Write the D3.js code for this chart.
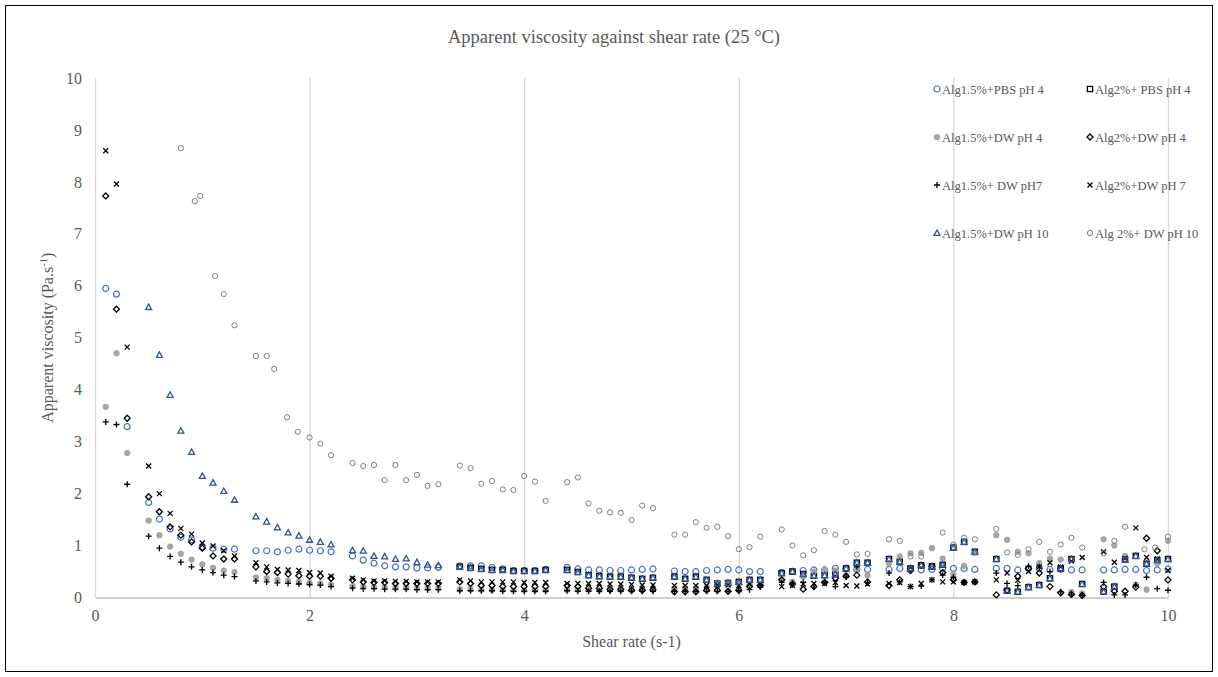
<!DOCTYPE html>
<head>
    <meta charset="utf-8">
    <style>
        body { margin: 0; background: #fff; }
        text { font-family: "Liberation Serif", "Times New Roman", serif; fill: #595959; }
    </style>
</head>
<body>
    <script src="https://cdn.jsdelivr.net/npm/d3@7"></script>
    <script>

        // shear rate steps shared by most series (s-1)
        var shear = [0.1, 0.2, 0.3,
            0.5, 0.6, 0.7, 0.8, 0.9, 1.0, 1.1, 1.2, 1.3,
            1.5, 1.6, 1.7, 1.8, 1.9, 2.0, 2.1, 2.2,
            2.4, 2.5, 2.6, 2.7, 2.8, 2.9, 3.0, 3.1, 3.2,
            3.4, 3.5, 3.6, 3.7, 3.8, 3.9, 4.0, 4.1, 4.2,
            4.4, 4.5, 4.6, 4.7, 4.8, 4.9, 5.0, 5.1, 5.2,
            5.4, 5.5, 5.6, 5.7, 5.8, 5.9, 6.0, 6.1, 6.2,
            6.4, 6.5, 6.6, 6.7, 6.8, 6.9, 7.0, 7.1, 7.2,
            7.4, 7.5, 7.6, 7.7, 7.8, 7.9, 8.0, 8.1, 8.2,
            8.4, 8.5, 8.6, 8.7, 8.8, 8.9, 9.0, 9.1, 9.2,
            9.4, 9.5, 9.6, 9.7, 9.8, 9.9, 10.0];

        var pbs15ph4 = [5.95, 5.84, 3.29,
            1.83, 1.51, 1.32, 1.16, 1.11, 0.98, 0.95, 0.93, 0.93,
            0.90, 0.90, 0.88, 0.91, 0.93, 0.91, 0.90, 0.88,
            0.80, 0.72, 0.66, 0.61, 0.59, 0.59, 0.57, 0.57, 0.58,
            0.61, 0.61, 0.61, 0.58, 0.55, 0.52, 0.52, 0.52, 0.54,
            0.58, 0.55, 0.53, 0.53, 0.52, 0.52, 0.53, 0.54, 0.55,
            0.51, 0.50, 0.50, 0.52, 0.53, 0.54, 0.53, 0.50, 0.50,
            0.48, 0.50, 0.52, 0.53, 0.53, 0.56, 0.56, 0.54, 0.54,
            0.54, 0.56, 0.55, 0.53, 0.54, 0.56, 0.56, 0.56, 0.54,
            0.56, 0.56, 0.53, 0.56, 0.56, 0.54, 0.54, 0.53, 0.53,
            0.53, 0.53, 0.54, 0.54, 0.52, 0.53, 0.55];

        // mostly hidden behind the pH 10 triangles
        var pbs2ph4 = [null, null, null,
            null, null, null, null, null, null, null, null, null,
            null, null, null, null, null, null, null, null,
            null, null, null, null, null, null, null, null, null,
            0.59, 0.57, 0.55, 0.53, 0.53, 0.51, 0.51, 0.51, 0.53,
            0.53, 0.49, 0.43, 0.41, 0.40, 0.40, 0.38, 0.36, 0.38,
            0.40, 0.36, 0.40, 0.34, 0.27, 0.28, 0.30, 0.34, 0.34,
            0.47, 0.50, 0.45, 0.42, 0.43, 0.45, 0.56, 0.67, 0.67,
            0.74, 0.69, 0.56, 0.62, 0.60, 0.63, 0.96, 1.07, 0.88,
            0.74, 0.13, 0.11, 0.20, 0.24, 0.37, 0.56, 0.74, 0.26,
            0.11, 0.21, 0.73, 0.80, 0.65, 0.72, 0.74];

        var dw15ph4 = [3.67, 4.70, 2.78,
            1.48, 1.20, 0.98, 0.84, 0.73, 0.64, 0.57, 0.52, 0.49,
            0.39, 0.37, 0.34, 0.32, 0.30, 0.28, 0.27, 0.25,
            0.22, 0.21, 0.20, 0.20, 0.19, 0.19, 0.18, 0.18, 0.18,
            0.16, 0.16, 0.15, 0.15, 0.15, 0.14, 0.14, 0.14, 0.14,
            0.15, 0.15, 0.15, 0.14, 0.15, 0.15, 0.16, 0.16, 0.17,
            0.17, 0.18, 0.18, 0.20, 0.27, 0.27, 0.27, 0.25, 0.25,
            0.34, 0.30, 0.40, 0.50, 0.53, 0.52, 0.43, 0.56, 0.43,
            0.66, 0.79, 0.85, 0.86, 0.95, 0.75, 0.45, 0.61, 0.86,
            1.20, 1.11, 0.88, 0.85, 0.66, 0.75, 0.73, 0.11, 0.08,
            1.12, 1.00, 0.80, 0.25, 0.15, 0.66, 1.09];

        var dw2ph4 = [7.73, 5.55, 3.45,
            1.94, 1.65, 1.36, 1.20, 1.07, 0.95, 0.80, 0.74, 0.74,
            0.59, 0.50, 0.48, 0.45, 0.42, 0.41, 0.41, 0.37,
            0.34, 0.30, 0.29, 0.29, 0.27, 0.27, 0.27, 0.27, 0.27,
            0.30, 0.27, 0.23, 0.23, 0.21, 0.21, 0.21, 0.21, 0.21,
            0.23, 0.21, 0.18, 0.18, 0.16, 0.16, 0.14, 0.14, 0.15,
            0.11, 0.11, 0.11, 0.14, 0.14, 0.12, 0.14, 0.21, 0.23,
            0.34, 0.26, 0.16, 0.21, 0.29, 0.37, 0.41, 0.43, 0.30,
            0.23, 0.34, 0.52, 0.62, 0.60, 0.48, 0.34, 0.29, 0.30,
            0.05, 0.14, 0.41, 0.56, 0.47, 0.21, 0.09, 0.06, 0.04,
            0.21, 0.12, 0.12, 0.20, 1.14, 0.90, 0.34];

        var dw15ph7 = [3.38, 3.33, 2.18,
            1.18, 0.95, 0.79, 0.68, 0.59, 0.53, 0.48, 0.43, 0.40,
            0.32, 0.30, 0.28, 0.27, 0.26, 0.25, 0.24, 0.21,
            0.18, 0.17, 0.17, 0.16, 0.16, 0.16, 0.15, 0.15, 0.15,
            0.13, 0.13, 0.13, 0.13, 0.12, 0.12, 0.12, 0.12, 0.12,
            0.13, 0.12, 0.12, 0.12, 0.12, 0.12, 0.12, 0.12, 0.12,
            0.12, 0.12, 0.12, 0.12, 0.12, 0.12, 0.13, 0.15, 0.20,
            0.29, 0.27, 0.29, 0.20, 0.30, 0.21, 0.39, 0.59, 0.29,
            0.47, 0.30, 0.21, 0.22, 0.34, 0.43, 0.39, 0.29, 0.30,
            0.47, 0.27, 0.23, 0.60, 0.59, 0.50, 0.11, 0.05, 0.04,
            0.29, 0.05, 0.05, 0.24, 0.39, 0.17, 0.14];

        var dw2ph7 = [8.60, 7.96, 4.82,
            2.53, 2.00, 1.62, 1.33, 1.22, 1.05, 0.99, 0.90, 0.80,
            0.67, 0.59, 0.54, 0.53, 0.52, 0.48, 0.47, 0.41,
            0.37, 0.34, 0.32, 0.32, 0.31, 0.31, 0.30, 0.30, 0.30,
            0.34, 0.32, 0.30, 0.30, 0.30, 0.30, 0.29, 0.29, 0.29,
            0.27, 0.27, 0.27, 0.27, 0.26, 0.26, 0.25, 0.24, 0.24,
            0.23, 0.23, 0.23, 0.23, 0.24, 0.24, 0.23, 0.26, 0.26,
            0.21, 0.23, 0.26, 0.27, 0.27, 0.29, 0.23, 0.22, 0.26,
            0.27, 0.29, 0.21, 0.27, 0.34, 0.30, 0.30, 0.29, 0.30,
            0.34, 0.47, 0.33, 0.50, 0.59, 0.67, 0.59, 0.70, 0.77,
            0.88, 0.68, 0.75, 1.34, 0.77, 0.74, 0.52];

        var dw15ph10 = [null, null, null,
            5.59, 4.67, 3.90, 3.21, 2.80, 2.34, 2.21, 2.05, 1.88,
            1.56, 1.46, 1.35, 1.25, 1.19, 1.11, 1.07, 1.02,
            0.91, 0.90, 0.80, 0.79, 0.74, 0.75, 0.68, 0.63, 0.62,
            0.59, 0.57, 0.55, 0.53, 0.53, 0.51, 0.51, 0.51, 0.53,
            0.53, 0.49, 0.43, 0.41, 0.40, 0.40, 0.38, 0.36, 0.38,
            0.40, 0.36, 0.40, 0.34, 0.27, 0.28, 0.30, 0.34, 0.34,
            0.47, 0.50, 0.45, 0.42, 0.43, 0.45, 0.56, 0.67, 0.67,
            0.74, 0.69, 0.56, 0.62, 0.60, 0.63, 0.96, 1.07, 0.88,
            0.74, 0.13, 0.11, 0.20, 0.24, 0.37, 0.56, 0.74, 0.26,
            0.11, 0.21, 0.73, 0.80, 0.65, 0.72, 0.74];

        // Alg 2% + DW pH 10 was logged at its own shear rates
        var shearDw2ph10 = [0.8, 0.93, 0.98, 1.12, 1.2, 1.3,
            1.5, 1.6, 1.67, 1.79, 1.89, 2.0, 2.1, 2.2,
            2.4, 2.5, 2.6, 2.7, 2.8, 2.9, 3.0, 3.1, 3.2,
            3.4, 3.5, 3.6, 3.7, 3.8, 3.9, 4.0, 4.1, 4.2,
            4.4, 4.5, 4.6, 4.7, 4.8, 4.9, 5.0, 5.1, 5.2,
            5.4, 5.5, 5.6, 5.7, 5.8, 5.9, 6.0, 6.1, 6.2,
            6.4, 6.5, 6.6, 6.7, 6.8, 6.9, 7.0, 7.1, 7.2,
            7.4, 7.5, 7.6, 7.7, 7.9, 8.0, 8.1, 8.2,
            8.4, 8.5, 8.6, 8.7, 8.8, 8.9, 9.0, 9.1, 9.2,
            9.4, 9.5, 9.6, 9.78, 9.88, 10.0];
        var dw2ph10 = [8.65, 7.63, 7.73, 6.19, 5.84, 5.24,
            4.65, 4.65, 4.40, 3.47, 3.19, 3.08, 2.96, 2.74,
            2.59, 2.53, 2.55, 2.26, 2.55, 2.26, 2.36, 2.15, 2.18,
            2.54, 2.49, 2.19, 2.24, 2.08, 2.07, 2.34, 2.23, 1.86,
            2.22, 2.31, 1.81, 1.67, 1.64, 1.63, 1.49, 1.77, 1.72,
            1.21, 1.21, 1.45, 1.34, 1.36, 1.18, 0.93, 0.97, 1.17,
            1.31, 1.00, 0.81, 0.91, 1.28, 1.21, 1.07, 0.83, 0.84,
            1.12, 1.09, 0.79, 0.79, 1.25, 1.02, 1.15, 1.12,
            1.32, 0.87, 0.82, 0.93, 1.07, 0.88, 1.02, 1.15, 0.96,
            0.85, 1.09, 1.36, 0.93, 0.96, 1.17];

        var xTicks = [0, 2, 4, 6, 8, 10];
        var yTicks = [0, 1, 2, 3, 4, 5, 6, 7, 8, 9, 10];

        // series in legend order: name, x values, y values, marker
        var series = [
            {name: "Alg1.5%+PBS pH 4", xs: shear, ys: pbs15ph4, mark: "circle", color: "#4472C4"},
            {name: "Alg2%+ PBS pH 4", xs: shear, ys: pbs2ph4, mark: "square", color: "#000"},
            {name: "Alg1.5%+DW pH 4", xs: shear, ys: dw15ph4, mark: "dot", color: "#A5A5A5"},
            {name: "Alg2%+DW pH 4", xs: shear, ys: dw2ph4, mark: "diamond", color: "#000"},
            {name: "Alg1.5%+ DW pH7", xs: shear, ys: dw15ph7, mark: "plus", color: "#000"},
            {name: "Alg2%+DW pH 7", xs: shear, ys: dw2ph7, mark: "cross", color: "#000"},
            {name: "Alg1.5%+DW pH 10", xs: shear, ys: dw15ph10, mark: "triangle", color: "#2F5597"},
            {name: "Alg 2%+ DW pH 10", xs: shearDw2ph10, ys: dw2ph10, mark: "ring", color: "#7F7F7F"}
        ];

        var W = 1218, H = 677;
        var margin = {top: 78, right: 50, bottom: 80, left: 95},
            width = 1168 - margin.left,
            height = 597.5 - margin.top;

        var x = d3.scaleLinear().domain([0, 10]).range([0, width]);
        var y = d3.scaleLinear().domain([0, 10]).range([height, 0]);

        var root = d3.select("body").append("svg")
            .attr("width", W)
            .attr("height", H);

        // outer chart frame
        root.append("rect")
            .attr("x", 5.5).attr("y", 5.5)
            .attr("width", 1207).attr("height", 666)
            .attr("fill", "none")
            .attr("stroke", "#000")
            .attr("stroke-width", 1);

        root.append("text")
            .attr("x", 614).attr("y", 43)
            .attr("text-anchor", "middle")
            .style("font-size", "18.5px")
            .text("Apparent viscosity against shear rate (25 \u00B0C)");

        var svg = root.append("g")
            .attr("transform", "translate(" + margin.left + "," + margin.top + ")");

        // vertical gridlines
        svg.append("g")
            .attr("transform", "translate(0," + height + ")")
            .call(d3.axisBottom(x).tickValues(xTicks.slice(1)).tickSize(-height).tickFormat(""))
            .call(function(g) { g.select(".domain").remove(); })
            .selectAll("line").attr("stroke", "#D9D9D9").attr("stroke-width", 1.3);

        // x axis
        var xAxis = svg.append("g")
            .attr("transform", "translate(0," + height + ")")
            .call(d3.axisBottom(x).tickValues(xTicks).tickSize(0).tickPadding(12));
        xAxis.select(".domain").attr("stroke", "#BFBFBF").attr("stroke-width", 1.3);
        xAxis.selectAll("text").style("font-size", "16px").attr("fill", "#595959");

        // y axis
        var yAxis = svg.append("g")
            .call(d3.axisLeft(y).tickValues(yTicks).tickSize(0).tickPadding(13));
        yAxis.select(".domain").attr("stroke", "#D9D9D9").attr("stroke-width", 1.3);
        yAxis.selectAll("text").style("font-size", "16px").attr("fill", "#595959");

        svg.append("text")
            .attr("x", width / 2)
            .attr("y", height + 49)
            .attr("text-anchor", "middle")
            .style("font-size", "16px")
            .text("Shear rate (s-1)");

        var yTitle = svg.append("text")
            .attr("transform", "translate(-42," + (height / 2) + ") rotate(-90)")
            .attr("text-anchor", "middle")
            .style("font-size", "16px");
        yTitle.append("tspan").text("Apparent viscosity (Pa.s");
        yTitle.append("tspan").attr("dy", -6).style("font-size", "10.5px").text("-1");
        yTitle.append("tspan").attr("dy", 6).text(")");

        // marker drawing
        function drawMark(sel, s) {
            var c = s.color;
            if (s.mark == "circle") {
                sel.append("circle").attr("r", 3).attr("fill", "none").attr("stroke", c).attr("stroke-width", 1.2);
            } else if (s.mark == "square") {
                sel.append("rect").attr("x", -2.6).attr("y", -2.6).attr("width", 5.2).attr("height", 5.2)
                    .attr("fill", "none").attr("stroke", c).attr("stroke-width", 1.3);
            } else if (s.mark == "dot") {
                sel.append("circle").attr("r", 3.1).attr("fill", c);
            } else if (s.mark == "diamond") {
                sel.append("path").attr("d", "M0,-3L3,0L0,3L-3,0Z")
                    .attr("fill", "none").attr("stroke", c).attr("stroke-width", 1.3);
            } else if (s.mark == "plus") {
                sel.append("path").attr("d", "M-3,0H3M0,-3V3")
                    .attr("stroke", c).attr("stroke-width", 1.3);
            } else if (s.mark == "cross") {
                sel.append("path").attr("d", "M-2.5,-2.5L2.5,2.5M-2.5,2.5L2.5,-2.5")
                    .attr("stroke", c).attr("stroke-width", 1.3);
            } else if (s.mark == "triangle") {
                sel.append("path").attr("d", "M0,-3L3,2.4L-3,2.4Z")
                    .attr("fill", "none").attr("stroke", c).attr("stroke-width", 1.3);
            } else if (s.mark == "ring") {
                sel.append("circle").attr("r", 2.6).attr("fill", "none").attr("stroke", c).attr("stroke-width", 1);
            }
        }

        series.forEach(function(s) {
            var pts = s.ys.map(function(v, i) { return {x: s.xs[i], y: v}; })
                .filter(function(d) { return d.y != null; });
            svg.append("g").selectAll("g")
                .data(pts)
                .enter().append("g")
                .attr("transform", function(d) { return "translate(" + x(d.x) + "," + y(d.y) + ")"; })
                .each(function() { drawMark(d3.select(this), s); });
        });

        // legend, two columns
        var legendCols = [937, 1090];
        var legendRows = [89, 137, 185, 233];
        series.forEach(function(s, i) {
            var lx = legendCols[i % 2], ly = legendRows[Math.floor(i / 2)];
            var g = root.append("g").attr("transform", "translate(" + lx + "," + ly + ")");
            drawMark(g, s);
            g.append("text")
                .attr("x", 5)
                .attr("y", 4.5)
                .style("font-size", "12.5px")
                .text(s.name);
        });

    </script>
</body>
